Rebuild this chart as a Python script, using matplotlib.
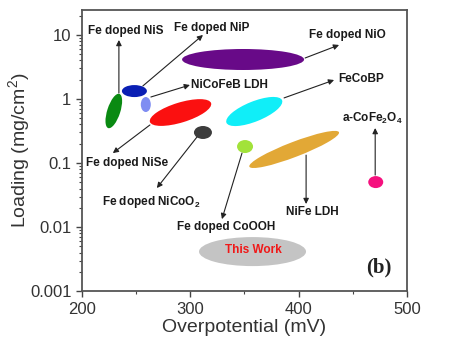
import matplotlib
matplotlib.use("Agg")
import matplotlib.pyplot as plt
from matplotlib.patches import Ellipse
from matplotlib.transforms import ScaledTranslation

plt.rcParams['font.family'] = ['Liberation Sans', 'DejaVu Sans']
plt.rcParams['mathtext.fontset'] = 'custom'
plt.rcParams['mathtext.rm'] = 'Liberation Sans'
plt.rcParams['mathtext.bf'] = 'Liberation Sans:bold'

# ---- data ----
names = ["Fe doped NiS", "Fe doped NiP", "NiCoFeB LDH", "Fe doped NiSe", "Fe doped NiCoO2",
         "Fe doped NiO", "FeCoBP", "Fe doped CoOOH", "NiFe LDH", "a-CoFe2O4", "This Work"]
overpotential = [229.5, 248.5, 259, 291, 311.7, 348.7, 359, 350.5, 395.8, 471, 357.4]
loading = [0.65, 1.33, 0.82, 0.615, 0.30, 4.14, 0.638, 0.181, 0.163, 0.0504, 0.00414]

# ellipse shapes (pixels) and colors
ell_w = [36, 25, 10, 64, 18, 122, 60, 16, 96, 15, 107]
ell_h = [13, 12, 15, 20, 13, 21, 20, 13, 15, 12, 29]
ell_ang = [72, 0, 0, 17, 0, 0, 22, 0, 21, 0, 0]
colors = ["#0a8a12", "#0a1fb4", "#7f8df2", "#fb1010", "#3c3c3c", "#680a88",
          "#10eef8", "#a2e23a", "#e2a836", "#f5107e", "#c4c4c4"]

# labels: text position, arrow start, arrow end
label_text = ["Fe doped NiS", "Fe doped NiP", "NiCoFeB LDH", "Fe doped NiSe",
              r"Fe doped NiCoO$\mathbf{_2}$", "Fe doped NiO", "FeCoBP",
              "Fe doped CoOOH", "NiFe LDH", r"a-CoFe$\mathbf{_2}$O$\mathbf{_4}$"]
label_x = [240.6, 320, 300.6, 241.5, 263.7, 444.6, 457.5, 332.9, 412.3, 467.7]
label_y = [11.5, 12.9, 1.655, 0.1, 0.0246, 10, 2.05, 0.01, 0.0172, 0.505]
label_ha = ["center", "center", "left", "center", "center", "center", "center",
            "center", "center", "center"]
arrow_x0 = [234.2, 256.3, 263.7, 262.8, 306.2, 405.9, 386.5, 347.7, 406.8, 470.5]
arrow_y0 = [1.24, 1.6, 1.075, 0.393, 0.255, 4.37, 1.04, 0.143, 0.133, 0.0649]
arrow_x1 = [234.2, 311.7, 299.7, 228.6, 269.2, 437.2, 432.6, 329.2, 406.8, 470.5]
arrow_y1 = [8.35, 10, 1.655, 0.143, 0.0407, 6.98, 1.98, 0.0133, 0.0229, 0.352]

fig = plt.figure(figsize=(4.57, 3.55), dpi=100)
ax = fig.add_axes([0.179, 0.180, 0.712, 0.792])
ax.set_yscale('log')
ax.set_xlim(200, 500)
ax.set_ylim(0.001, 24.6)

for x, y, w, h, a, c in zip(overpotential, loading, ell_w, ell_h, ell_ang, colors):
    tr = fig.dpi_scale_trans + ScaledTranslation(x, y, ax.transData)
    e = Ellipse((0, 0), w / fig.dpi, h / fig.dpi, angle=a, transform=tr,
                facecolor=c, edgecolor='none', zorder=2)
    ax.add_patch(e)

for t, lx, ly, ha in zip(label_text, label_x, label_y, label_ha):
    ax.text(lx, ly, t, ha=ha, va='center', fontsize=8.5, fontweight='bold',
            color='#1a1a1a', zorder=4)

for x0, y0, x1, y1 in zip(arrow_x0, arrow_y0, arrow_x1, arrow_y1):
    ax.annotate("", xy=(x1, y1), xytext=(x0, y0),
                arrowprops=dict(arrowstyle='-|>', lw=0.8, color='#222222',
                                mutation_scale=8, shrinkA=0, shrinkB=0), zorder=3)

ax.text(357.8, 0.00435, "This Work", ha='center', va='center', fontsize=8.5,
        fontweight='bold', color='#f01818', zorder=4)
ax.text(474, 0.00237, "(b)", ha='center', va='center', fontsize=15,
        fontweight='bold', family='Liberation Serif', color='#222222')

ax.set_xticks([200, 300, 400, 500])
ax.set_xticks([250, 350, 450], minor=True)
ax.set_yticks([0.001, 0.01, 0.1, 1, 10])
ax.set_yticklabels(["0.001", "0.01", "0.1", "1", "10"])
ax.tick_params(axis='both', which='major', labelsize=12, length=4, width=1.0,
               color='#444444', labelcolor='#333333', direction='out')
ax.tick_params(axis='both', which='minor', length=2, width=0.8, color='#444444',
               direction='out')
for s in ax.spines.values():
    s.set_color('#555555')
    s.set_linewidth(1.3)

ax.set_xlabel("Overpotential (mV)", fontsize=14, color='#333333', labelpad=2)
ax.set_ylabel("Loading (mg/cm$^2$)", fontsize=14, color='#333333')
ax.yaxis.set_label_coords(-0.15, 0.5)

fig.savefig("out.png", dpi=100)
